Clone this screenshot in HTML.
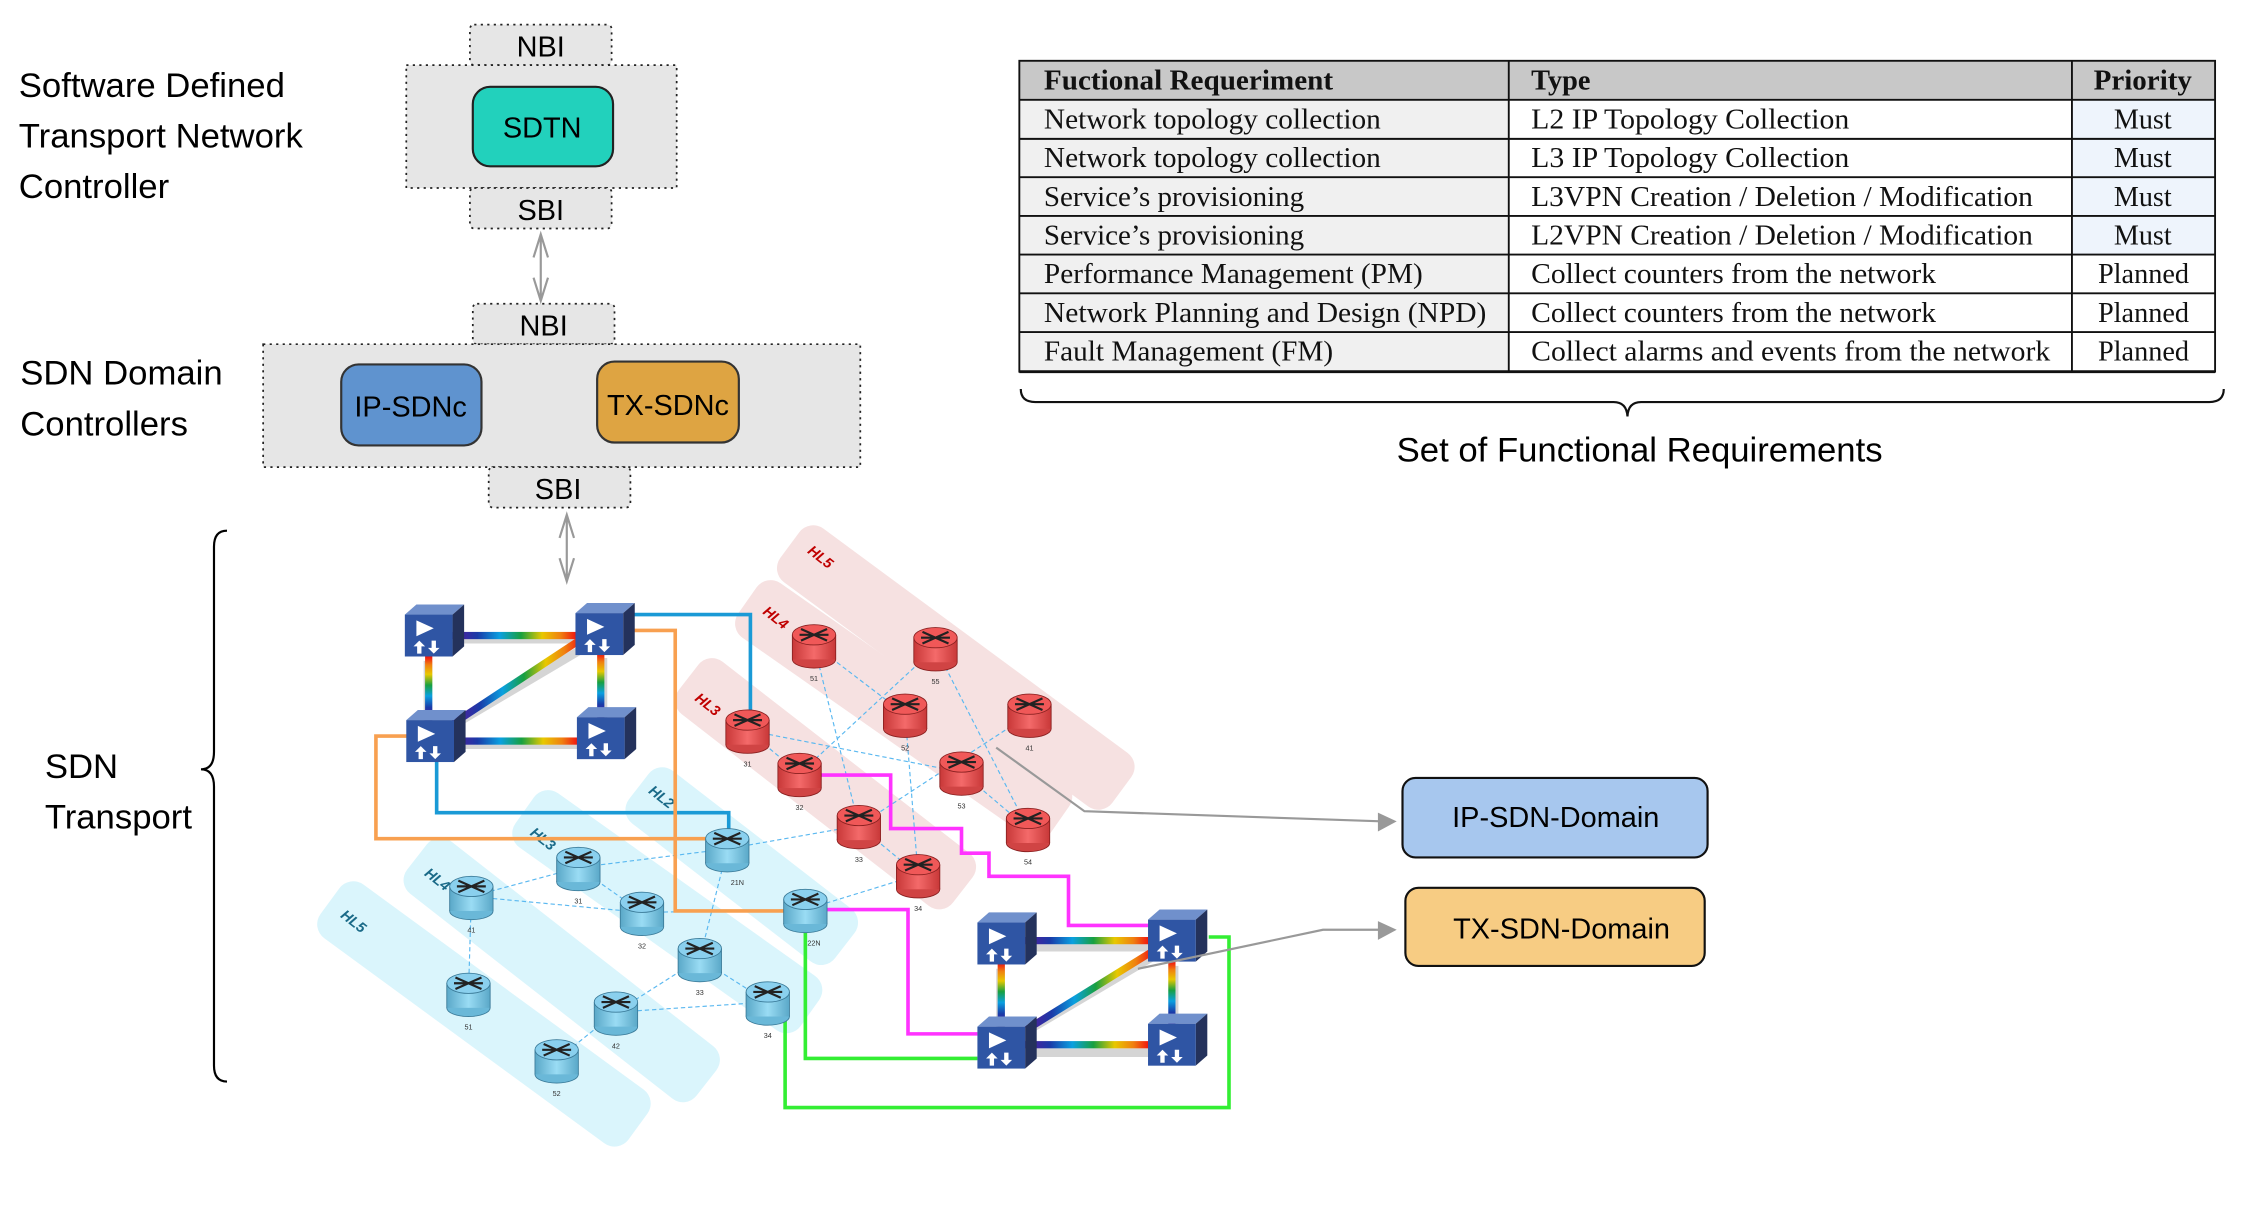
<!DOCTYPE html>
<html><head><meta charset="utf-8"><style>
html,body{margin:0;padding:0;background:#fff;}
svg{display:block;}
</style></head><body>
<svg width="2244" height="1206" viewBox="0 0 1552 834" xmlns="http://www.w3.org/2000/svg" font-family="Liberation Sans, sans-serif">
<defs>
<linearGradient id="rb" x1="0" y1="0" x2="1" y2="0">
<stop offset="0" stop-color="#5a1a9a"/><stop offset="0.2" stop-color="#1a3aa8"/><stop offset="0.38" stop-color="#0aa0e0"/><stop offset="0.55" stop-color="#18a040"/><stop offset="0.72" stop-color="#e8c800"/><stop offset="0.87" stop-color="#f08010"/><stop offset="1" stop-color="#f01010"/>
</linearGradient>
<linearGradient id="rbv" x1="0" y1="1" x2="0" y2="0">
<stop offset="0" stop-color="#5a1a9a"/><stop offset="0.2" stop-color="#1a3aa8"/><stop offset="0.38" stop-color="#0aa0e0"/><stop offset="0.55" stop-color="#18a040"/><stop offset="0.72" stop-color="#e8c800"/><stop offset="0.87" stop-color="#f08010"/><stop offset="1" stop-color="#f01010"/>
</linearGradient>
<linearGradient id="rcyl" x1="0" x2="1"><stop offset="0" stop-color="#c83838"/><stop offset="0.5" stop-color="#f46a6a"/><stop offset="1" stop-color="#c83838"/></linearGradient>
<linearGradient id="bcyl" x1="0" x2="1"><stop offset="0" stop-color="#5aa8c8"/><stop offset="0.5" stop-color="#9adcf4"/><stop offset="1" stop-color="#5aa8c8"/></linearGradient>
<g id="sw">
<polygon points="0,0 8,-7 41,-7 33,0" fill="#7090cc"/>
<polygon points="33,0 41,-7 41,22 33,29" fill="#24325c"/>
<rect x="0" y="0" width="33" height="29" fill="#2f55a4"/>
<polygon points="8,4 8,15 20,9.5" fill="#fff"/>
<polygon points="10,18 6,22 8.5,22 8.5,27 11.5,27 11.5,22 14,22" fill="#fff"/>
<polygon points="20,27 16,23 18.5,23 18.5,18 21.5,18 21.5,23 24,23" fill="#fff"/>
</g>
<g id="rr">
<ellipse cx="0" cy="10" rx="15" ry="6" fill="#d04444" stroke="#8a2020" stroke-width="0.6"/>
<rect x="-15" y="-7" width="30" height="17" fill="url(#rcyl)"/>
<line x1="-15" y1="-7" x2="-15" y2="10" stroke="#8a2020" stroke-width="0.6"/>
<line x1="15" y1="-7" x2="15" y2="10" stroke="#8a2020" stroke-width="0.6"/>
<ellipse cx="0" cy="-7" rx="15" ry="7" fill="#f05858" stroke="#8a2020" stroke-width="0.6"/>
<path d="M-9,-11 L9,-3 M9,-11 L-9,-3 M-10,-7 L10,-7" stroke="#222" stroke-width="1.5"/>
</g>
<g id="br">
<ellipse cx="0" cy="10" rx="15" ry="6" fill="#6ab8d8" stroke="#3a7a98" stroke-width="0.6"/>
<rect x="-15" y="-7" width="30" height="17" fill="url(#bcyl)"/>
<line x1="-15" y1="-7" x2="-15" y2="10" stroke="#3a7a98" stroke-width="0.6"/>
<line x1="15" y1="-7" x2="15" y2="10" stroke="#3a7a98" stroke-width="0.6"/>
<ellipse cx="0" cy="-7" rx="15" ry="7" fill="#8ad0ee" stroke="#3a7a98" stroke-width="0.6"/>
<path d="M-9,-11 L9,-3 M9,-11 L-9,-3 M-10,-7 L10,-7" stroke="#222" stroke-width="1.5"/>
</g>
</defs>

<g font-size="24" fill="#000">
<text x="13" y="67">Software Defined</text>
<text x="13" y="102">Transport Network</text>
<text x="13" y="137">Controller</text>
<text x="14" y="266">SDN Domain</text>
<text x="14" y="301">Controllers</text>
<text x="31" y="538">SDN</text>
<text x="31" y="573">Transport</text>
</g>
<path d="M157,367 Q148,367 148,378 L148,520 Q148,532 139,532 Q148,532 148,544 L148,737 Q148,748 157,748" fill="none" stroke="#000" stroke-width="1.5"/>

<g stroke="#222" stroke-width="1.2" stroke-dasharray="1.5,3" fill="#e6e6e6">
<rect x="325" y="17" width="98" height="28" rx="3"/>
<rect x="281" y="45" width="187" height="85"/>
<rect x="325" y="130" width="98" height="28" rx="3"/>
<rect x="327" y="210" width="98" height="28" rx="3"/>
<rect x="182" y="238" width="413" height="85"/>
<rect x="338" y="323" width="98" height="28" rx="3"/>
</g>
<rect x="327" y="60" width="97" height="55" rx="12" fill="#22d1bc" stroke="#222" stroke-width="1.5"/>
<rect x="236" y="252" width="97" height="56" rx="12" fill="#5f93cf" stroke="#333" stroke-width="1.5"/>
<rect x="413" y="250" width="98" height="56" rx="12" fill="#dea442" stroke="#333" stroke-width="1.5"/>
<g font-size="20" fill="#000" text-anchor="middle">
<text x="374" y="39">NBI</text>
<text x="374" y="152">SBI</text>
<text x="376" y="232">NBI</text>
<text x="386" y="345">SBI</text>
<text x="375" y="95">SDTN</text>
<text x="284" y="288">IP-SDNc</text>
<text x="462" y="287">TX-SDNc</text>
</g>
<g stroke="#999" stroke-width="1.5" fill="none">
<path d="M374,162 L374,208 M369,178 L374,162 L379,178 M369,192 L374,208 L379,192"/>
<path d="M392,356 L392,402 M387,372 L392,356 L397,372 M387,386 L392,402 L397,386"/>
</g>

<g>
<rect x="705" y="42" width="827" height="27" fill="#c8c8c8"/>
<rect x="705" y="69" width="338" height="188" fill="#f0f0f0"/>
<rect x="1433" y="69" width="99" height="107" fill="#eef4fc"/>
<g stroke="#111" stroke-width="1.3" fill="none">
<rect x="705" y="42" width="827" height="215"/>
<line x1="705" y1="69" x2="1532" y2="69"/>
<line x1="705" y1="96" x2="1532" y2="96"/>
<line x1="705" y1="122.5" x2="1532" y2="122.5"/>
<line x1="705" y1="149.3" x2="1532" y2="149.3"/>
<line x1="705" y1="176" x2="1532" y2="176"/>
<line x1="705" y1="202.8" x2="1532" y2="202.8"/>
<line x1="705" y1="229.6" x2="1532" y2="229.6"/>
<line x1="1043.5" y1="42" x2="1043.5" y2="257"/>
<line x1="1433" y1="42" x2="1433" y2="257"/>
<line x1="705" y1="257" x2="1532" y2="257" stroke-width="2"/>
</g>
<g font-family="Liberation Serif, serif" font-size="20" fill="#111">
<g font-weight="bold">
<text x="722" y="62" textLength="200" lengthAdjust="spacingAndGlyphs">Fuctional Requeriment</text>
<text x="1059" y="62" textLength="41" lengthAdjust="spacingAndGlyphs">Type</text>
<text x="1448" y="62" textLength="68" lengthAdjust="spacingAndGlyphs">Priority</text>
</g>
<text x="722" y="89" textLength="233" lengthAdjust="spacingAndGlyphs">Network topology collection</text>
<text x="722" y="115.5" textLength="233" lengthAdjust="spacingAndGlyphs">Network topology collection</text>
<text x="722" y="142.3" textLength="180" lengthAdjust="spacingAndGlyphs">Service’s provisioning</text>
<text x="722" y="169" textLength="180" lengthAdjust="spacingAndGlyphs">Service’s provisioning</text>
<text x="722" y="195.8" textLength="262" lengthAdjust="spacingAndGlyphs">Performance Management (PM)</text>
<text x="722" y="222.6" textLength="306" lengthAdjust="spacingAndGlyphs">Network Planning and Design (NPD)</text>
<text x="722" y="249.4" textLength="200" lengthAdjust="spacingAndGlyphs">Fault Management (FM)</text>
<text x="1059" y="89" textLength="220" lengthAdjust="spacingAndGlyphs">L2 IP Topology Collection</text>
<text x="1059" y="115.5" textLength="220" lengthAdjust="spacingAndGlyphs">L3 IP Topology Collection</text>
<text x="1059" y="142.3" textLength="347" lengthAdjust="spacingAndGlyphs">L3VPN Creation / Deletion / Modification</text>
<text x="1059" y="169" textLength="347" lengthAdjust="spacingAndGlyphs">L2VPN Creation / Deletion / Modification</text>
<text x="1059" y="195.8" textLength="280" lengthAdjust="spacingAndGlyphs">Collect counters from the network</text>
<text x="1059" y="222.6" textLength="280" lengthAdjust="spacingAndGlyphs">Collect counters from the network</text>
<text x="1059" y="249.4" textLength="359" lengthAdjust="spacingAndGlyphs">Collect alarms and events from the network</text>
<text x="1462" y="89" textLength="40" lengthAdjust="spacingAndGlyphs">Must</text>
<text x="1462" y="115.5" textLength="40" lengthAdjust="spacingAndGlyphs">Must</text>
<text x="1462" y="142.3" textLength="40" lengthAdjust="spacingAndGlyphs">Must</text>
<text x="1462" y="169" textLength="40" lengthAdjust="spacingAndGlyphs">Must</text>
<text x="1451" y="195.8" textLength="63" lengthAdjust="spacingAndGlyphs">Planned</text>
<text x="1451" y="222.6" textLength="63" lengthAdjust="spacingAndGlyphs">Planned</text>
<text x="1451" y="249.4" textLength="63" lengthAdjust="spacingAndGlyphs">Planned</text>
</g>
</g>
<path d="M706,269 Q706,278 716,278 L1116,278 Q1125,278 1125.6,288 Q1126,278 1135,278 L1528,278 Q1538,278 1538,269" fill="none" stroke="#111" stroke-width="1.5"/>
<text x="1134" y="319" font-size="24" text-anchor="middle" fill="#000">Set of Functional Requirements</text>

<g fill="#f5dcdc" opacity="0.85">
<rect x="-142.6" y="-23" width="285.3" height="46" rx="12" transform="translate(661,461.6) rotate(36.4)"/>
<rect x="-132" y="-23" width="264" height="46" rx="12" transform="translate(625,491) rotate(35)"/>
<rect x="-120" y="-23" width="240" height="46" rx="12" transform="translate(571,542) rotate(37.8)"/>
</g>
<g fill="#d6f4fc" opacity="0.9">
<rect x="-90" y="-23" width="180" height="46" rx="12" transform="translate(513,599) rotate(37.7)"/>
<rect x="-121" y="-23" width="242" height="46" rx="12" transform="translate(461.5,630.5) rotate(35.4)"/>
<rect x="-127" y="-23" width="254" height="46" rx="12" transform="translate(388.5,670.8) rotate(38)"/>
<rect x="-132" y="-23" width="264" height="46" rx="12" transform="translate(334.7,701.2) rotate(36.2)"/>
</g>
<g font-size="10" font-weight="bold" font-style="italic">
<text fill="#c00000" transform="translate(558,382) rotate(38)">HL5</text>
<text fill="#c00000" transform="translate(527,424) rotate(38)">HL4</text>
<text fill="#c00000" transform="translate(480,484) rotate(38)">HL3</text>
<text fill="#1a6a88" transform="translate(448,548) rotate(38)">HL2</text>
<text fill="#1a6a88" transform="translate(366,577) rotate(38)">HL3</text>
<text fill="#1a6a88" transform="translate(293,605) rotate(38)">HL4</text>
<text fill="#1a6a88" transform="translate(235,634) rotate(38)">HL5</text>
</g>

<g stroke="#5ab8f0" stroke-width="0.8" stroke-dasharray="3,2" fill="none">
<path d="M563,446 L626,494 M563,446 L594,571 M647,448 L553,535 M647,448 L711,573 M517,505 L553,535 M517,505 L665,534 M712,494 L594,571 M626,494 L635,605 M665,534 L711,573 M594,571 L635,605"/>
<path d="M503,587 L594,571 M557,629 L635,605 M503,587 L400,600 M400,600 L326,620 M400,600 L444,631 M326,620 L444,631 M326,620 L324,687 M444,631 L557,629 M503,587 L484,663 M484,663 L426,700 M426,700 L385,733 M426,700 L531,693 M484,663 L531,693"/>
</g>

<g fill="none" stroke-width="2.5">
<path d="M432,425 L519,425 L519,494" stroke="#1a9ad6"/>
<path d="M302,527 L302,562 L504,562 L504,578" stroke="#1a9ad6"/>
<path d="M432,436 L467,436 L467,630 L545,630" stroke="#f8a050"/>
<path d="M283,509 L260,509 L260,580 L492,580" stroke="#f8a050"/>
<path d="M565,536 L616,536 L616,573 L665,573 L665,590 L684,590 L684,606 L739,606 L739,640 L794,640" stroke="#ff33ff"/>
<path d="M569,629 L628,629 L628,715 L676,715" stroke="#ff33ff"/>
<path d="M557,640 L557,732 L676,732" stroke="#33ee33"/>
<path d="M543,700 L543,766 L850,766 L850,648 L836,648" stroke="#33ee33"/>
</g>

<g stroke-linecap="butt">
<g opacity="0.35" stroke="#888" stroke-width="6" fill="none">
<path d="M316,442 L400,442 M296,457 L296,500 M317,515 L400,515 M316,500 L404,448 M417,455 L417,498"/>
<path d="M712,655 L796,655 M692,670 L692,712 M712,728 L796,728 M712,712 L800,660 M812,668 L812,710"/>
</g>
<rect x="313" y="437" width="86" height="5" fill="url(#rb)"/>
<rect x="313" y="510" width="87" height="5" fill="url(#rb)"/>
<rect x="294" y="454" width="5" height="44" fill="url(#rbv)"/>
<rect x="413" y="452" width="5" height="44" fill="url(#rbv)"/>
<line x1="314" y1="500" x2="402" y2="442" stroke="url(#rb)" stroke-width="5"/>
<rect x="709" y="648" width="86" height="5" fill="url(#rb)"/>
<rect x="709" y="720" width="86" height="5" fill="url(#rb)"/>
<rect x="690" y="666" width="5" height="44" fill="url(#rbv)"/>
<rect x="808" y="665" width="5" height="44" fill="url(#rbv)"/>
<line x1="710" y1="712" x2="797" y2="658" stroke="url(#rb)" stroke-width="5"/>
<use href="#sw" x="280" y="425"/>
<use href="#sw" x="398" y="424"/>
<use href="#sw" x="281" y="498"/>
<use href="#sw" x="399" y="496"/>
<use href="#sw" x="676" y="638"/>
<use href="#sw" x="794" y="636"/>
<use href="#sw" x="676" y="710"/>
<use href="#sw" x="794" y="708"/>
</g>

<use href="#rr" x="563" y="446"/><use href="#rr" x="647" y="448"/><use href="#rr" x="626" y="494"/><use href="#rr" x="712" y="494"/><use href="#rr" x="517" y="505"/><use href="#rr" x="665" y="534"/><use href="#rr" x="553" y="535"/><use href="#rr" x="594" y="571"/><use href="#rr" x="711" y="573"/><use href="#rr" x="635" y="605"/>
<use href="#br" x="503" y="587"/><use href="#br" x="400" y="600"/><use href="#br" x="326" y="620"/><use href="#br" x="444" y="631"/><use href="#br" x="557" y="629"/><use href="#br" x="484" y="663"/><use href="#br" x="324" y="687"/><use href="#br" x="531" y="693"/><use href="#br" x="426" y="700"/><use href="#br" x="385" y="733"/>
<g font-size="5" fill="#333" text-anchor="middle">
<text x="563" y="471">51</text><text x="647" y="473">55</text><text x="626" y="519">52</text><text x="712" y="519">41</text><text x="517" y="530">31</text><text x="665" y="559">53</text><text x="553" y="560">32</text><text x="594" y="596">33</text><text x="711" y="598">54</text><text x="635" y="630">34</text>
<text x="510" y="612">21N</text><text x="400" y="625">31</text><text x="326" y="645">41</text><text x="444" y="656">32</text><text x="563" y="654">22N</text><text x="484" y="688">33</text><text x="324" y="712">51</text><text x="531" y="718">34</text><text x="426" y="725">42</text><text x="385" y="758">52</text>
</g>

<g stroke="#999" stroke-width="1.5" fill="none">
<path d="M689,517 L750,561 L955,568"/>
<path d="M787,670 L915,643 L955,643"/>
</g>
<polygon points="966,568 953,562 953,575" fill="#999"/>
<polygon points="966,643 953,637 953,650" fill="#999"/>
<rect x="970" y="538" width="211" height="55" rx="9" fill="#a7c7ee" stroke="#111" stroke-width="1.5"/>
<rect x="972" y="614" width="207" height="54" rx="9" fill="#f7cc83" stroke="#111" stroke-width="1.5"/>
<g font-size="20" fill="#000" text-anchor="middle">
<text x="1076" y="572">IP-SDN-Domain</text>
<text x="1080" y="649">TX-SDN-Domain</text>
</g>
</svg>
</body></html>
